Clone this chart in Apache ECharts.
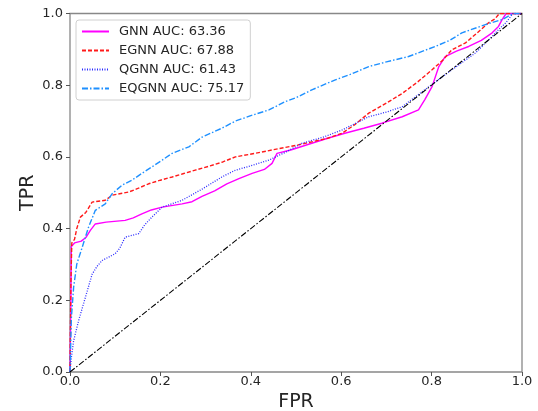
<!DOCTYPE html>
<html>
<head>
<meta charset="utf-8">
<script src="https://cdn.jsdelivr.net/npm/echarts@6/dist/echarts.min.js"></script>
<style>
html,body{margin:0;padding:0;background:#fff;}
#chart{width:538px;height:411px;}
</style>
</head>
<body>
<div id="chart"></div>
<script>
// ---- data ----
var seriesNames = ['GNN AUC: 63.36', 'EGNN AUC: 67.88', 'QGNN AUC: 61.43', 'EQGNN AUC: 75.17'];
var tickValues = [0, 0.2, 0.4, 0.6, 0.8, 1.0];

var gnnRoc = [[0,0],[0.002,0.2],[0.003,0.35],[0.01,0.36],[0.025,0.365],[0.035,0.375],[0.045,0.395],[0.056,0.413],[0.08,0.418],[0.122,0.423],[0.14,0.43],[0.159,0.441],[0.18,0.452],[0.204,0.46],[0.248,0.469],[0.27,0.475],[0.292,0.49],[0.32,0.505],[0.347,0.525],[0.375,0.54],[0.403,0.554],[0.43,0.565],[0.447,0.582],[0.458,0.61],[0.49,0.62],[0.535,0.638],[0.57,0.652],[0.608,0.666],[0.65,0.68],[0.69,0.694],[0.735,0.712],[0.771,0.731],[0.785,0.76],[0.801,0.796],[0.816,0.852],[0.83,0.88],[0.855,0.895],[0.882,0.908],[0.91,0.925],[0.934,0.946],[0.948,0.964],[0.956,0.983],[0.965,1.0],[1,1]];

var egnnRoc = [[0,0],[0.002,0.25],[0.004,0.36],[0.01,0.37],[0.015,0.4],[0.023,0.432],[0.035,0.445],[0.049,0.474],[0.078,0.479],[0.093,0.493],[0.13,0.502],[0.15,0.512],[0.174,0.525],[0.2,0.535],[0.226,0.544],[0.25,0.553],[0.277,0.563],[0.31,0.575],[0.336,0.585],[0.366,0.6],[0.41,0.61],[0.462,0.623],[0.5,0.632],[0.535,0.642],[0.57,0.652],[0.602,0.666],[0.63,0.69],[0.661,0.722],[0.7,0.75],[0.735,0.777],[0.77,0.81],[0.801,0.843],[0.825,0.87],[0.845,0.899],[0.875,0.918],[0.9,0.945],[0.926,0.974],[0.94,0.985],[0.95,1.0],[1,1]];

var qgnnRoc = [[0,0],[0.003,0.04],[0.008,0.087],[0.019,0.143],[0.034,0.208],[0.049,0.273],[0.06,0.295],[0.071,0.311],[0.1,0.33],[0.11,0.345],[0.122,0.376],[0.152,0.386],[0.165,0.41],[0.181,0.432],[0.204,0.46],[0.248,0.479],[0.292,0.51],[0.336,0.544],[0.366,0.563],[0.4,0.575],[0.44,0.591],[0.48,0.615],[0.513,0.638],[0.56,0.655],[0.602,0.675],[0.661,0.712],[0.7,0.725],[0.735,0.74],[0.794,0.796],[0.845,0.843],[0.897,0.89],[0.934,0.936],[0.948,0.955],[0.965,0.975],[0.98,1.0],[1,1]];

var eqgnnRoc = [[0,0],[0.003,0.15],[0.008,0.236],[0.015,0.301],[0.027,0.348],[0.041,0.404],[0.056,0.451],[0.078,0.469],[0.093,0.497],[0.115,0.521],[0.137,0.535],[0.159,0.554],[0.181,0.572],[0.204,0.591],[0.226,0.61],[0.263,0.628],[0.292,0.655],[0.336,0.68],[0.366,0.7],[0.4,0.715],[0.44,0.731],[0.476,0.754],[0.5,0.765],[0.535,0.787],[0.587,0.815],[0.62,0.83],[0.661,0.852],[0.7,0.865],[0.749,0.88],[0.808,0.908],[0.84,0.925],[0.867,0.946],[0.919,0.969],[0.956,0.983],[0.98,1.0],[1,1]];

var chanceLine = [[0,0],[1,1]];

// ---- chart ----
var FONT = 'DejaVu Sans';
var TXT = '#262626';
var chart = echarts.init(document.getElementById('chart'), null, {renderer: 'canvas'});

function lineSeries(name, data, color, type, width) {
  return {
    name: name, type: 'line', data: data, symbol: 'none', showSymbol: false,
    animation: false, silent: true,
    lineStyle: {color: color, width: width, type: type},
    itemStyle: {color: color}
  };
}

function fmt(v) { return v.toFixed(1); }

var option = {
  backgroundColor: '#fff',
  animation: false,
  grid: {
    left: 70, right: 16, top: 13.5, bottom: 39,
    outerBoundsMode: 'none', containLabel: false,
    show: true, borderColor: '#888', borderWidth: 1.3, backgroundColor: 'transparent'
  },
  legend: {
    data: seriesNames,
    orient: 'vertical', left: 76, top: 20,
    itemWidth: 27, itemHeight: 12, itemGap: 6,
    padding: [5, 6, 5, 5],
    backgroundColor: '#fff',
    borderColor: '#d0d0d0', borderWidth: 1, borderRadius: 3,
    itemStyle: {opacity: 0},
    textStyle: {fontFamily: FONT, fontSize: 13, color: TXT, padding: [0, 0, 0, 5]}
  },
  xAxis: {
    type: 'value', min: 0, max: 1, interval: 0.2,
    splitLine: {show: false}, axisLine: {show: false},
    axisTick: {show: true, inside: false, length: 4, lineStyle: {color: '#555', width: 1}},
    axisLabel: {fontFamily: FONT, fontSize: 13, color: TXT, margin: 3, formatter: fmt},
    name: 'FPR', nameLocation: 'middle', nameGap: 16,
    nameTextStyle: {fontFamily: FONT, fontSize: 19, color: TXT}
  },
  yAxis: {
    type: 'value', min: 0, max: 1, interval: 0.2,
    splitLine: {show: false}, axisLine: {show: false},
    axisTick: {show: true, inside: false, length: 4, lineStyle: {color: '#555', width: 1}},
    axisLabel: {fontFamily: FONT, fontSize: 13, color: TXT, margin: 7, formatter: fmt},
    name: 'TPR', nameLocation: 'middle', nameGap: 32, nameRotate: 90,
    nameMoveOverlap: false,
    nameTextStyle: {fontFamily: FONT, fontSize: 19, color: TXT}
  },
  series: [
    lineSeries(seriesNames[0], gnnRoc, '#ff00ff', 'solid', 1.4),
    lineSeries(seriesNames[1], egnnRoc, '#ff1a1a', [4, 2], 1.4),
    lineSeries(seriesNames[2], qgnnRoc, '#2b2bff', [1, 1.5], 1.3),
    lineSeries(seriesNames[3], eqgnnRoc, '#1e90ff', [6, 2, 1.5, 2], 1.4),
    {
      type: 'line', data: chanceLine, symbol: 'none', animation: false, silent: true,
      lineStyle: {color: '#000', width: 1.1, type: [6, 2, 1.5, 2]}
    }
  ]
};
chart.setOption(option);
</script>
</body>
</html>
